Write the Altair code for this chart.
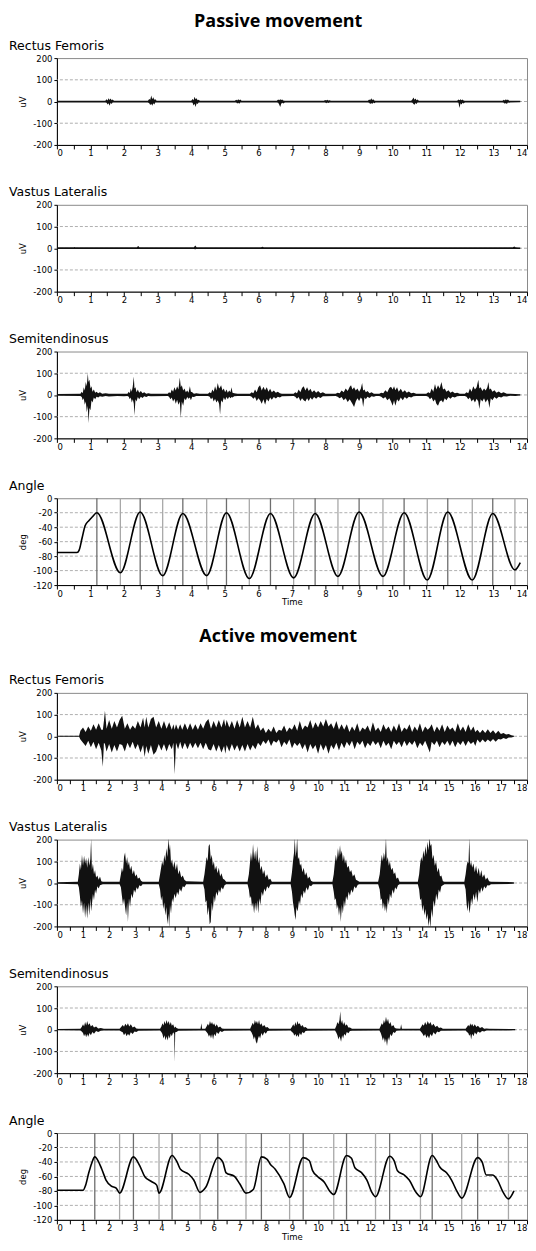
import altair as alt
import pandas as pd

FONT = "DejaVu Sans"
INK = "#111111"

PASSIVE_MAX = 14
ACTIVE_MAX = 18
PASSIVE_XTICKS = [i / 2 for i in range(0, 29)]
ACTIVE_XTICKS = [i / 2 for i in range(0, 37)]
EMG_YTICKS = [-200, -100, 0, 100, 200]
EMG_GRID = [-100, 0, 100]
ANGLE_YTICKS = [-120, -100, -80, -60, -40, -20, 0]
ANGLE_GRID = [-100, -80, -60, -40, -20]

# ---------------- Passive movement: EMG envelopes (time s, upper uV, lower uV)
rf_passive = [
    (0, 4, -4),
    (1.44, 4, -4), (1.48, 10, -6), (1.51, 5, -14), (1.54, 15, -8), (1.57, 7, -20), (1.6, 14, -6),
    (1.63, 6, -12), (1.66, 9, -5), (1.7, 4, -4),
    (2.71, 4, -4), (2.75, 12, -8), (2.78, 8, -16), (2.81, 28, -10), (2.84, 10, -20), (2.87, 20, -8),
    (2.9, 8, -14), (2.93, 10, -5), (2.97, 4, -4),
    (4.0, 4, -4), (4.04, 12, -6), (4.07, 6, -18), (4.1, 22, -10), (4.13, 10, -25), (4.16, 15, -8),
    (4.19, 6, -12), (4.22, 8, -5), (4.26, 4, -4),
    (5.3, 4, -4), (5.34, 8, -5), (5.37, 5, -9), (5.4, 10, -6), (5.43, 6, -10), (5.46, 9, -5), (5.5, 4, -4),
    (6.55, 4, -4), (6.59, 9, -6), (6.62, 6, -14), (6.65, 10, -25), (6.68, 7, -10), (6.71, 9, -6),
    (6.74, 5, -9), (6.79, 4, -4),
    (7.95, 4, -4), (7.99, 7, -5), (8.02, 5, -8), (8.05, 8, -5), (8.08, 5, -7), (8.12, 6, -4), (8.16, 4, -4),
    (9.26, 4, -4), (9.3, 9, -6), (9.33, 6, -12), (9.36, 15, -7), (9.39, 7, -11), (9.42, 10, -5),
    (9.45, 5, -8), (9.49, 4, -4),
    (10.55, 4, -4), (10.59, 10, -6), (10.62, 18, -12), (10.65, 8, -15), (10.68, 14, -7), (10.71, 6, -11),
    (10.74, 9, -5), (10.78, 4, -4),
    (11.92, 4, -4), (11.96, 9, -6), (11.99, 6, -30), (12.02, 10, -8), (12.05, 6, -14), (12.08, 9, -6),
    (12.11, 5, -9), (12.15, 4, -4),
    (13.27, 4, -4), (13.31, 8, -6), (13.34, 5, -10), (13.37, 10, -7), (13.4, 6, -12), (13.43, 9, -5),
    (13.47, 4, -6), (13.5, 4, -4), (13.8, 3, -3),
]
vl_passive = [
    (0, 4, -4), (0.5, 4, -4), (0.52, 6, -4), (0.54, 4, -4), (2.38, 4, -4), (2.42, 10, -4),
    (2.46, 4, -4), (4.08, 4, -4), (4.12, 12, -5), (4.16, 4, -4), (6.08, 4, -4), (6.12, 7, -4),
    (6.16, 4, -4), (13.58, 4, -4), (13.62, 8, -4), (13.66, 4, -4), (13.8, 3, -3),
]
st_passive = [
    (0, 4, -4),
    (0.7, 5, -5), (0.74, 15, -10), (0.77, 8, -25), (0.8, 35, -15), (0.83, 20, -45), (0.86, 60, -30),
    (0.89, 40, -80), (0.92, 100, -50), (0.94, 60, -130), (0.97, 70, -60), (1.0, 30, -70), (1.03, 40, -25),
    (1.06, 15, -35), (1.1, 25, -12), (1.14, 10, -20), (1.18, 15, -8), (1.23, 8, -12), (1.28, 12, -6),
    (1.35, 6, -8), (1.45, 8, -5), (1.55, 5, -7), (1.8, 6, -5), (2.0, 5, -6),
    (2.1, 5, -5), (2.14, 15, -8), (2.17, 8, -20), (2.2, 30, -12), (2.23, 15, -35), (2.26, 40, -20),
    (2.29, 85, -40), (2.31, 30, -95), (2.34, 35, -20), (2.37, 12, -30), (2.41, 25, -10), (2.45, 10, -20),
    (2.5, 18, -8), (2.55, 8, -14), (2.6, 12, -6), (2.66, 6, -10), (2.72, 8, -5), (2.8, 5, -6),
    (3.3, 5, -5), (3.34, 12, -8), (3.38, 8, -20), (3.42, 25, -12), (3.46, 15, -30), (3.5, 35, -18),
    (3.54, 20, -40), (3.58, 40, -22), (3.62, 25, -45), (3.66, 80, -30), (3.69, 35, -105), (3.72, 45, -30),
    (3.76, 20, -50), (3.8, 30, -15), (3.84, 12, -25), (3.88, 20, -10), (3.92, 10, -18), (3.96, 40, -12),
    (3.99, 15, -25), (4.03, 12, -8), (4.08, 6, -10), (4.15, 8, -5), (4.25, 5, -5),
    (4.5, 5, -5), (4.55, 12, -8), (4.59, 8, -20), (4.63, 25, -12), (4.67, 15, -30), (4.71, 40, -18),
    (4.75, 20, -35), (4.79, 55, -25), (4.83, 30, -40), (4.86, 35, -90), (4.89, 45, -25), (4.93, 20, -35),
    (4.97, 30, -12), (5.01, 12, -25), (5.05, 25, -10), (5.09, 10, -20), (5.13, 20, -8), (5.17, 12, -15),
    (5.2, 35, -10), (5.23, 10, -12), (5.28, 8, -6), (5.38, 6, -5),
    (5.75, 5, -5), (5.8, 12, -8), (5.85, 8, -18), (5.9, 25, -10), (5.95, 12, -28), (6.0, 35, -15),
    (6.05, 45, -25), (6.1, 20, -40), (6.15, 38, -20), (6.2, 22, -45), (6.25, 35, -18), (6.3, 15, -30),
    (6.35, 28, -12), (6.4, 12, -22), (6.46, 20, -10), (6.52, 10, -16), (6.58, 15, -8), (6.64, 8, -12),
    (6.7, 6, -6),
    (7.05, 5, -5), (7.1, 12, -8), (7.15, 8, -18), (7.2, 25, -10), (7.25, 12, -28), (7.3, 32, -15),
    (7.35, 40, -25), (7.4, 20, -30), (7.45, 35, -15), (7.5, 18, -28), (7.55, 28, -12), (7.6, 12, -22),
    (7.66, 22, -10), (7.72, 10, -18), (7.78, 18, -8), (7.85, 8, -14), (7.92, 12, -6), (8.0, 6, -6),
    (8.3, 5, -5), (8.36, 10, -8), (8.42, 8, -15), (8.48, 20, -10), (8.54, 12, -25), (8.6, 30, -15),
    (8.66, 18, -32), (8.72, 38, -20), (8.76, 45, -30), (8.8, 25, -40), (8.85, 35, -55), (8.9, 20, -30),
    (8.95, 30, -15), (9.0, 15, -28), (9.05, 28, -12), (9.09, 55, -20), (9.12, 20, -55), (9.16, 25, -12),
    (9.2, 12, -20), (9.25, 18, -8), (9.31, 8, -14), (9.37, 12, -6), (9.44, 6, -8), (9.5, 5, -5),
    (9.6, 5, -5), (9.66, 10, -8), (9.72, 8, -16), (9.78, 22, -10), (9.84, 12, -25), (9.9, 32, -15),
    (9.95, 38, -30), (10.0, 25, -50), (10.04, 40, -25), (10.08, 22, -50), (10.13, 35, -20), (10.18, 15, -30),
    (10.24, 28, -12), (10.3, 12, -24), (10.36, 22, -10), (10.42, 10, -18), (10.48, 16, -8), (10.55, 8, -12),
    (10.62, 10, -6), (10.7, 5, -5),
    (11.0, 5, -5), (11.06, 12, -8), (11.11, 8, -20), (11.16, 30, -12), (11.21, 15, -30), (11.26, 50, -20),
    (11.3, 25, -40), (11.35, 45, -50), (11.4, 30, -30), (11.45, 60, -25), (11.5, 25, -35), (11.55, 30, -15),
    (11.6, 15, -25), (11.66, 22, -10), (11.72, 10, -18), (11.78, 16, -8), (11.85, 8, -12), (11.92, 10, -6),
    (12.0, 5, -5),
    (12.15, 5, -5), (12.2, 12, -8), (12.25, 8, -20), (12.3, 30, -12), (12.35, 15, -30), (12.4, 40, -20),
    (12.45, 25, -35), (12.5, 35, -18), (12.55, 70, -30), (12.58, 30, -65), (12.62, 35, -20), (12.67, 18, -30),
    (12.72, 30, -15), (12.77, 20, -35), (12.82, 35, -20), (12.85, 60, -30), (12.88, 25, -60), (12.92, 30, -15),
    (12.97, 15, -25), (13.03, 22, -10), (13.09, 10, -18), (13.16, 16, -8), (13.23, 8, -12), (13.3, 12, -6),
    (13.4, 5, -7), (13.5, 6, -4), (13.65, 4, -5), (13.8, 3, -3),
]

# ---------------- Passive movement: knee angle (time s, deg)
angle_passive = [
    (0, -75), (0.6, -75), (0.66, -72), (0.75, -55), (0.84, -38), (0.95, -31), (1.05, -26), (1.19, -20),
    (1.89, -103), (2.48, -19), (3.15, -107), (3.75, -21), (4.46, -107), (5.05, -20), (5.73, -111),
    (6.36, -21), (7.05, -110), (7.69, -21), (8.37, -108), (9.0, -19), (9.71, -108), (10.34, -20),
    (11.03, -113), (11.64, -19), (12.37, -113), (12.98, -21), (13.64, -99), (13.8, -89),
]
passive_peak_lines = [1.19, 2.48, 3.75, 5.05, 6.36, 7.69, 9.0, 10.34, 11.64, 12.98]
passive_trough_lines = [1.89, 3.15, 4.46, 5.73, 7.05, 8.37, 9.71, 11.03, 12.37, 13.64]

# ---------------- Active movement: EMG envelopes
rf_active = [
    (0, 2, -2), (0.85, 2, -2), (0.9, 25, -15), (1.0, 40, -30), (1.1, 20, -45), (1.2, 45, -20),
    (1.3, 25, -50), (1.4, 55, -25), (1.5, 30, -60), (1.6, 60, -30), (1.7, 30, -65), (1.76, 30, -140),
    (1.8, 70, -30), (1.84, 118, -35), (1.9, 35, -70), (2.0, 75, -35), (2.1, 35, -75), (2.2, 70, -40),
    (2.3, 40, -70), (2.4, 75, -35), (2.5, 95, -40), (2.6, 35, -70), (2.7, 60, -30), (2.8, 30, -55),
    (2.9, 50, -25), (3.0, 35, -60), (3.1, 70, -35), (3.2, 40, -75), (3.3, 85, -40), (3.36, 40, -95),
    (3.42, 90, -45), (3.5, 40, -80), (3.6, 80, -40), (3.7, 90, -85), (3.8, 40, -70), (3.9, 70, -35),
    (4.0, 35, -65), (4.1, 70, -35), (4.2, 35, -70), (4.3, 65, -35), (4.4, 30, -60), (4.46, 55, -30),
    (4.51, 30, -175), (4.56, 55, -30), (4.64, 30, -60), (4.72, 55, -25), (4.8, 30, -60), (4.9, 60, -30),
    (5.0, 30, -60), (5.1, 60, -30), (5.2, 30, -55), (5.3, 55, -30), (5.4, 30, -55), (5.5, 60, -30),
    (5.6, 35, -60), (5.7, 65, -30), (5.8, 80, -60), (5.9, 35, -65), (6.0, 70, -35), (6.1, 40, -70),
    (6.2, 75, -40), (6.3, 40, -75), (6.4, 80, -45), (6.45, 45, -80), (6.5, 75, -40), (6.6, 40, -70),
    (6.7, 70, -35), (6.8, 35, -65), (6.9, 75, -40), (7.0, 40, -70), (7.1, 90, -40), (7.2, 40, -70),
    (7.3, 70, -35), (7.4, 40, -65), (7.5, 90, -40), (7.6, 35, -60), (7.7, 55, -30), (7.8, 25, -45),
    (7.9, 40, -20), (8.0, 15, -35), (8.1, 35, -15), (8.2, 20, -45), (8.3, 45, -20), (8.4, 15, -30),
    (8.5, 30, -15), (8.6, 25, -50), (8.7, 50, -25), (8.8, 20, -40), (8.9, 40, -15), (9.0, 30, -55),
    (9.1, 55, -30), (9.2, 25, -45), (9.3, 70, -30), (9.4, 30, -60), (9.5, 50, -35), (9.6, 40, -75),
    (9.7, 75, -35), (9.8, 35, -60), (9.9, 65, -40), (10.0, 40, -80), (10.1, 70, -35), (10.2, 45, -65),
    (10.3, 80, -40), (10.4, 45, -80), (10.5, 60, -40), (10.6, 35, -60), (10.7, 70, -30), (10.8, 30, -65),
    (10.9, 55, -30), (11.0, 30, -55), (11.1, 55, -25), (11.2, 20, -45), (11.3, 45, -20), (11.4, 25, -60),
    (11.5, 60, -25), (11.6, 20, -40), (11.7, 40, -20), (11.8, 30, -55), (11.9, 50, -30), (12.0, 20, -45),
    (12.1, 65, -20), (12.2, 25, -40), (12.3, 40, -25), (12.4, 20, -55), (12.5, 55, -20), (12.6, 30, -45),
    (12.7, 45, -30), (12.8, 20, -60), (12.9, 50, -20), (13.0, 25, -40), (13.1, 60, -25), (13.2, 20, -50),
    (13.3, 40, -20), (13.4, 30, -45), (13.5, 55, -25), (13.6, 20, -40), (13.7, 45, -20), (13.8, 25, -55),
    (13.9, 60, -30), (14.0, 20, -45), (14.1, 45, -20), (14.2, 30, -50), (14.28, 40, -75), (14.35, 55, -25),
    (14.45, 20, -40), (14.55, 45, -20), (14.65, 25, -50), (14.75, 55, -25), (14.85, 20, -40), (14.95, 50, -20),
    (15.05, 30, -45), (15.15, 40, -20), (15.25, 20, -50), (15.35, 60, -25), (15.45, 25, -40), (15.55, 45, -20),
    (15.65, 20, -45), (15.75, 55, -20), (15.85, 25, -35), (15.95, 45, -25), (16.02, 20, -45), (16.1, 30, -15),
    (16.2, 15, -30), (16.3, 30, -15), (16.4, 15, -28), (16.5, 32, -15), (16.6, 15, -25), (16.7, 28, -12),
    (16.8, 12, -25), (16.9, 25, -12), (17.0, 10, -15), (17.1, 15, -8), (17.2, 8, -12), (17.3, 10, -6),
    (17.4, 5, -6), (17.5, 2, -2),
]
vl_active = [
    (0, 4, -4),
    (0.8, 6, -6), (0.84, 40, -20), (0.88, 90, -60), (0.92, 60, -110), (0.96, 130, -80), (1.0, 80, -140),
    (1.04, 125, -90), (1.08, 90, -160), (1.12, 115, -100), (1.16, 70, -165), (1.2, 120, -90), (1.24, 80, -150),
    (1.28, 110, -70), (1.31, 205, -130), (1.34, 60, -100), (1.38, 90, -50), (1.42, 40, -80), (1.46, 60, -30),
    (1.5, 25, -50), (1.55, 35, -15), (1.6, 15, -25), (1.65, 30, -10), (1.7, 8, -8), (1.76, 6, -6),
    (2.4, 6, -6), (2.45, 40, -20), (2.49, 70, -60), (2.53, 50, -100), (2.57, 120, -70), (2.61, 140, -110),
    (2.65, 90, -150), (2.69, 120, -90), (2.72, 80, -180), (2.76, 100, -70), (2.8, 60, -110), (2.85, 80, -50),
    (2.9, 40, -70), (2.95, 60, -30), (3.0, 30, -45), (3.05, 40, -20), (3.1, 20, -30), (3.16, 25, -10),
    (3.22, 10, -15), (3.28, 6, -6),
    (3.9, 6, -6), (3.95, 40, -30), (3.99, 70, -80), (4.03, 100, -60), (4.07, 80, -120), (4.11, 130, -90),
    (4.15, 100, -150), (4.19, 160, -110), (4.23, 120, -190), (4.27, 210, -140), (4.3, 150, -210),
    (4.33, 180, -100), (4.37, 90, -140), (4.41, 110, -70), (4.45, 70, -90), (4.5, 100, -50), (4.55, 60, -70),
    (4.6, 90, -40), (4.65, 40, -55), (4.7, 60, -25), (4.76, 25, -40), (4.82, 35, -15), (4.88, 15, -20),
    (4.95, 8, -6),
    (5.6, 6, -6), (5.65, 40, -30), (5.69, 80, -90), (5.73, 120, -80), (5.77, 100, -150), (5.81, 170, -110),
    (5.85, 180, -190), (5.89, 110, -180), (5.93, 130, -90), (5.97, 80, -130), (6.01, 100, -60), (6.05, 60, -90),
    (6.1, 80, -40), (6.15, 45, -60), (6.2, 70, -30), (6.25, 30, -45), (6.3, 45, -20), (6.36, 20, -30),
    (6.42, 15, -10), (6.48, 6, -6),
    (7.3, 6, -6), (7.35, 40, -30), (7.39, 90, -70), (7.43, 140, -60), (7.47, 100, -110), (7.51, 180, -90),
    (7.55, 110, -140), (7.59, 150, -90), (7.63, 100, -130), (7.67, 170, -80), (7.71, 90, -140), (7.75, 120, -70),
    (7.79, 60, -100), (7.84, 80, -40), (7.89, 40, -60), (7.94, 60, -25), (7.99, 25, -40), (8.05, 40, -15),
    (8.11, 15, -25), (8.17, 20, -8), (8.23, 6, -6),
    (8.95, 6, -6), (9.0, 50, -40), (9.04, 100, -90), (9.08, 140, -120), (9.11, 210, -150), (9.14, 120, -170),
    (9.17, 150, -110), (9.2, 210, -130), (9.23, 110, -120), (9.27, 120, -80), (9.31, 80, -100), (9.35, 90, -50),
    (9.4, 50, -70), (9.45, 70, -35), (9.5, 35, -50), (9.55, 50, -20), (9.61, 20, -35), (9.67, 30, -10),
    (9.73, 10, -15), (9.8, 6, -6),
    (10.55, 6, -6), (10.6, 40, -40), (10.64, 90, -80), (10.68, 130, -70), (10.72, 100, -120), (10.76, 160, -100),
    (10.8, 120, -150), (10.84, 175, -110), (10.87, 130, -180), (10.91, 150, -100), (10.95, 100, -140),
    (10.99, 130, -80), (11.03, 90, -110), (11.07, 110, -60), (11.12, 70, -80), (11.17, 80, -40), (11.22, 50, -60),
    (11.27, 60, -30), (11.33, 30, -45), (11.39, 40, -15), (11.45, 15, -25), (11.52, 10, -8), (11.58, 6, -6),
    (12.3, 6, -6), (12.36, 40, -30), (12.4, 90, -80), (12.44, 130, -70), (12.48, 100, -120), (12.52, 140, -90),
    (12.56, 110, -130), (12.6, 210, -100), (12.63, 100, -140), (12.67, 120, -70), (12.71, 80, -100),
    (12.75, 100, -50), (12.8, 60, -70), (12.85, 70, -30), (12.9, 40, -50), (12.95, 50, -20), (13.0, 20, -30),
    (13.06, 25, -10), (13.12, 6, -6),
    (13.82, 6, -6), (13.87, 40, -30), (13.91, 90, -80), (13.95, 120, -70), (13.99, 100, -130), (14.03, 150, -100),
    (14.07, 120, -150), (14.11, 170, -120), (14.15, 130, -170), (14.19, 190, -140), (14.23, 150, -200),
    (14.27, 210, -160), (14.3, 170, -210), (14.34, 180, -120), (14.38, 110, -160), (14.42, 130, -80),
    (14.47, 80, -110), (14.52, 100, -50), (14.57, 50, -80), (14.62, 70, -30), (14.67, 30, -45), (14.72, 35, -15),
    (14.78, 8, -10), (14.84, 6, -6),
    (15.6, 6, -6), (15.65, 40, -30), (15.69, 80, -100), (15.73, 100, -130), (15.76, 90, -80), (15.79, 210, -140),
    (15.82, 80, -120), (15.86, 100, -70), (15.9, 70, -100), (15.95, 90, -50), (16.0, 50, -80), (16.05, 80, -40),
    (16.1, 40, -90), (16.15, 70, -30), (16.2, 30, -50), (16.25, 60, -20), (16.3, 25, -40), (16.36, 40, -15),
    (16.42, 15, -25), (16.48, 25, -10), (16.55, 8, -12), (16.62, 6, -6), (17.5, 4, -4),
]
st_active = [
    (0, 3, -3),
    (0.9, 4, -4), (0.95, 12, -8), (1.0, 25, -15), (1.04, 15, -30), (1.08, 35, -18), (1.12, 20, -35),
    (1.16, 40, -20), (1.2, 22, -32), (1.25, 30, -15), (1.3, 15, -25), (1.36, 22, -10), (1.42, 10, -18),
    (1.5, 15, -6), (1.58, 6, -10), (1.68, 8, -5), (1.8, 4, -4),
    (2.4, 4, -4), (2.46, 12, -8), (2.52, 22, -12), (2.57, 14, -25), (2.62, 28, -15), (2.67, 18, -30),
    (2.72, 30, -18), (2.77, 15, -28), (2.83, 25, -12), (2.9, 10, -20), (2.97, 15, -8), (3.04, 6, -10),
    (3.12, 5, -5),
    (3.95, 4, -4), (4.0, 15, -10), (4.04, 30, -20), (4.08, 20, -40), (4.12, 40, -25), (4.16, 25, -48),
    (4.2, 45, -30), (4.24, 28, -50), (4.28, 40, -25), (4.32, 22, -40), (4.36, 35, -18), (4.4, 18, -30),
    (4.45, 25, -12), (4.49, 12, -20), (4.51, 8, -150), (4.53, 15, -12), (4.58, 8, -10), (4.65, 5, -5),
    (5.5, 4, -4), (5.53, 30, -4), (5.56, 4, -4),
    (5.68, 4, -4), (5.73, 15, -10), (5.78, 28, -18), (5.82, 18, -32), (5.86, 40, -22), (5.9, 25, -40),
    (5.94, 35, -20), (5.98, 22, -45), (6.02, 30, -18), (6.07, 15, -30), (6.12, 25, -10), (6.18, 10, -20),
    (6.25, 15, -6), (6.32, 6, -10), (6.4, 5, -5),
    (7.4, 4, -4), (7.45, 18, -12), (7.5, 32, -25), (7.54, 22, -45), (7.58, 45, -30), (7.62, 30, -55),
    (7.66, 40, -65), (7.7, 25, -40), (7.74, 45, -28), (7.78, 22, -40), (7.83, 30, -15), (7.88, 15, -28),
    (7.94, 22, -10), (8.0, 10, -18), (8.06, 12, -6), (8.13, 5, -5),
    (8.95, 4, -4), (9.0, 14, -10), (9.05, 25, -15), (9.09, 15, -28), (9.13, 35, -18), (9.17, 20, -32),
    (9.21, 40, -22), (9.25, 25, -35), (9.3, 30, -15), (9.35, 15, -25), (9.4, 22, -10), (9.46, 10, -16),
    (9.52, 12, -6), (9.6, 5, -5),
    (10.65, 4, -4), (10.7, 18, -14), (10.74, 35, -25), (10.78, 25, -45), (10.82, 45, -30), (10.85, 85, -40),
    (10.88, 30, -55), (10.92, 45, -25), (10.96, 22, -40), (11.0, 35, -18), (11.05, 18, -28), (11.1, 25, -10),
    (11.16, 10, -16), (11.22, 10, -6), (11.3, 5, -5),
    (12.35, 4, -4), (12.4, 18, -15), (12.44, 30, -30), (12.48, 22, -50), (12.52, 45, -35), (12.56, 30, -60),
    (12.6, 60, -40), (12.64, 35, -75), (12.68, 50, -35), (12.72, 25, -50), (12.77, 35, -20), (12.82, 15, -30),
    (12.88, 22, -10), (12.94, 8, -15), (13.0, 6, -5),
    (13.15, 4, -4), (13.18, 25, -4), (13.21, 4, -4),
    (13.9, 4, -4), (13.95, 14, -10), (14.0, 25, -18), (14.05, 18, -30), (14.1, 35, -20), (14.15, 22, -38),
    (14.2, 40, -25), (14.25, 25, -40), (14.3, 35, -20), (14.36, 18, -30), (14.42, 28, -12), (14.49, 12, -22),
    (14.56, 18, -8), (14.63, 8, -12), (14.7, 10, -5), (14.78, 5, -5),
    (15.65, 4, -4), (15.7, 12, -10), (15.75, 22, -15), (15.79, 15, -28), (15.83, 30, -20), (15.86, 18, -45),
    (15.9, 28, -18), (15.95, 15, -30), (16.0, 25, -12), (16.06, 12, -22), (16.12, 18, -8), (16.2, 8, -14),
    (16.28, 12, -6), (16.36, 5, -8), (16.45, 6, -4), (16.55, 4, -4), (17.55, 3, -3),
]

# ---------------- Active movement: knee angle
angle_active = [
    (0, -79), (1.0, -79), (1.1, -72), (1.22, -55), (1.33, -42), (1.45, -33), (1.72, -50), (1.88, -65),
    (2.07, -73), (2.27, -76), (2.40, -83), (2.93, -33), (3.17, -45), (3.36, -60), (3.62, -67), (3.82, -72),
    (3.91, -83), (4.41, -31), (4.6, -40), (4.73, -50), (5.05, -57), (5.24, -65), (5.48, -82), (5.7, -75),
    (6.16, -34), (6.35, -40), (6.48, -55), (6.8, -60), (7.0, -70), (7.24, -83), (7.52, -78), (7.83, -33),
    (8.04, -36), (8.17, -43), (8.36, -50), (8.69, -70), (8.91, -89), (9.43, -34), (9.66, -38), (9.79, -52),
    (9.98, -60), (10.24, -68), (10.44, -80), (10.60, -85), (11.09, -31), (11.28, -35), (11.41, -48),
    (11.67, -55), (11.87, -65), (12.06, -82), (12.20, -88), (12.74, -32), (12.91, -38), (13.04, -52),
    (13.3, -58), (13.49, -65), (13.75, -82), (13.92, -88), (14.37, -31), (14.53, -38), (14.66, -47),
    (14.92, -55), (15.11, -65), (15.31, -80), (15.50, -90), (16.11, -34), (16.28, -40), (16.44, -58),
    (16.67, -58), (16.87, -65), (17.06, -80), (17.29, -91), (17.5, -80),
]
active_peak_lines = [1.45, 2.93, 4.41, 6.16, 7.83, 9.43, 11.09, 12.74, 14.37, 16.11]
active_trough_lines = [2.40, 3.91, 5.48, 7.24, 8.91, 10.60, 12.20, 13.92, 15.50, 17.29]

W, H = 471, 87


def panel_title(text):
    return alt.TitleParams(text=text, anchor="start", frame="group", dx=-48, offset=2,
                           font=FONT, fontSize=12.5, fontWeight="normal", color="black")


def x_enc(xmax, ticks, with_title):
    axis_kw = dict(values=ticks, labelExpr="datum.value % 1 == 0 ? '' + datum.value : ''",
                   tickSize=4, labelPadding=0, grid=False, labelFlush=True, labelOverlap=False)
    scale = alt.Scale(domain=[0, xmax], nice=False, zero=False)
    if with_title:
        axis_kw.update(title="Time", titlePadding=0)
        return alt.X("t:Q", scale=scale, axis=alt.Axis(**axis_kw))
    return alt.X("t:Q", scale=scale, axis=alt.Axis(**axis_kw), title=None)


def y_enc(field, domain, ticks, title):
    return alt.Y(field, scale=alt.Scale(domain=domain, nice=False, zero=False),
                 axis=alt.Axis(values=ticks, labelExpr="'' + datum.value", tickSize=3, labelPadding=2,
                               grid=False, title=title, titlePadding=5))


def emg_panel(name, rows, xmax, xticks):
    df = pd.DataFrame(rows, columns=["t", "hi", "lo"])
    grid = pd.DataFrame({"g": EMG_GRID})
    g = alt.Chart(grid).mark_rule(color="#9a9a9a", strokeDash=[3, 2], strokeWidth=0.8).encode(
        y=y_enc("g:Q", [-200, 200], EMG_YTICKS, "uV"))
    sig = alt.Chart(df).mark_area(color=INK, clip=True, interpolate="linear", opacity=1).encode(
        x=x_enc(xmax, xticks, False),
        y=y_enc("hi:Q", [-200, 200], EMG_YTICKS, "uV"),
        y2="lo:Q")
    return alt.layer(g, sig).properties(width=W, height=H, title=panel_title(name))


def angle_panel(rows, peaks, troughs, xmax, xticks):
    df = pd.DataFrame(rows, columns=["t", "deg"])
    lines = pd.DataFrame({"t": peaks + troughs,
                          "kind": ["peak"] * len(peaks) + ["trough"] * len(troughs)})
    grid = pd.DataFrame({"g": ANGLE_GRID})
    g = alt.Chart(grid).mark_rule(color="#9a9a9a", strokeDash=[3, 2], strokeWidth=0.8).encode(
        y=y_enc("g:Q", [-120, 0], ANGLE_YTICKS, "deg"))
    v = alt.Chart(lines).mark_rule(strokeWidth=1.3).encode(
        x=x_enc(xmax, xticks, True),
        color=alt.Color("kind:N", scale=alt.Scale(domain=["peak", "trough"],
                                                  range=["#6e6e6e", "#a8a8a8"]), legend=None))
    c = alt.Chart(df).mark_line(color="black", strokeWidth=1.6, interpolate="monotone").encode(
        x=x_enc(xmax, xticks, True),
        y=y_enc("deg:Q", [-120, 0], ANGLE_YTICKS, "deg"))
    return alt.layer(g, v, c).properties(width=W, height=H, title=panel_title("Angle"))


def group_title(text, offset):
    return alt.TitleParams(text=text, anchor="middle", dx=10, offset=offset,
                           font="Open Sans", fontSize=18, fontWeight="bold", color="black")


g1 = alt.vconcat(
    emg_panel("Rectus Femoris", rf_passive, PASSIVE_MAX, PASSIVE_XTICKS),
    emg_panel("Vastus Lateralis", vl_passive, PASSIVE_MAX, PASSIVE_XTICKS),
    emg_panel("Semitendinosus", st_passive, PASSIVE_MAX, PASSIVE_XTICKS),
    angle_panel(angle_passive, passive_peak_lines, passive_trough_lines, PASSIVE_MAX, PASSIVE_XTICKS),
    spacing=60, bounds="flush", title=group_title("Passive movement", 8))

g2 = alt.vconcat(
    emg_panel("Rectus Femoris", rf_active, ACTIVE_MAX, ACTIVE_XTICKS),
    emg_panel("Vastus Lateralis", vl_active, ACTIVE_MAX, ACTIVE_XTICKS),
    emg_panel("Semitendinosus", st_active, ACTIVE_MAX, ACTIVE_XTICKS),
    angle_panel(angle_active, active_peak_lines, active_trough_lines, ACTIVE_MAX, ACTIVE_XTICKS),
    spacing=60, bounds="flush", title=group_title("Active movement", 28))

chart = alt.vconcat(g1, g2, spacing=21).properties(
    padding={"left": 0, "top": 4, "right": 0, "bottom": 0}
).configure_view(stroke="#8a8a8a", strokeWidth=1).configure_axis(
    labelFont=FONT, labelFontSize=8.5, labelColor="black",
    titleFont=FONT, titleFontSize=8.5, titleFontWeight="normal", titleColor="black",
    domainColor="black", tickColor="black", domainWidth=1, tickWidth=1)

chart.save("out.html", embed_options={"renderer": "svg", "actions": False})
